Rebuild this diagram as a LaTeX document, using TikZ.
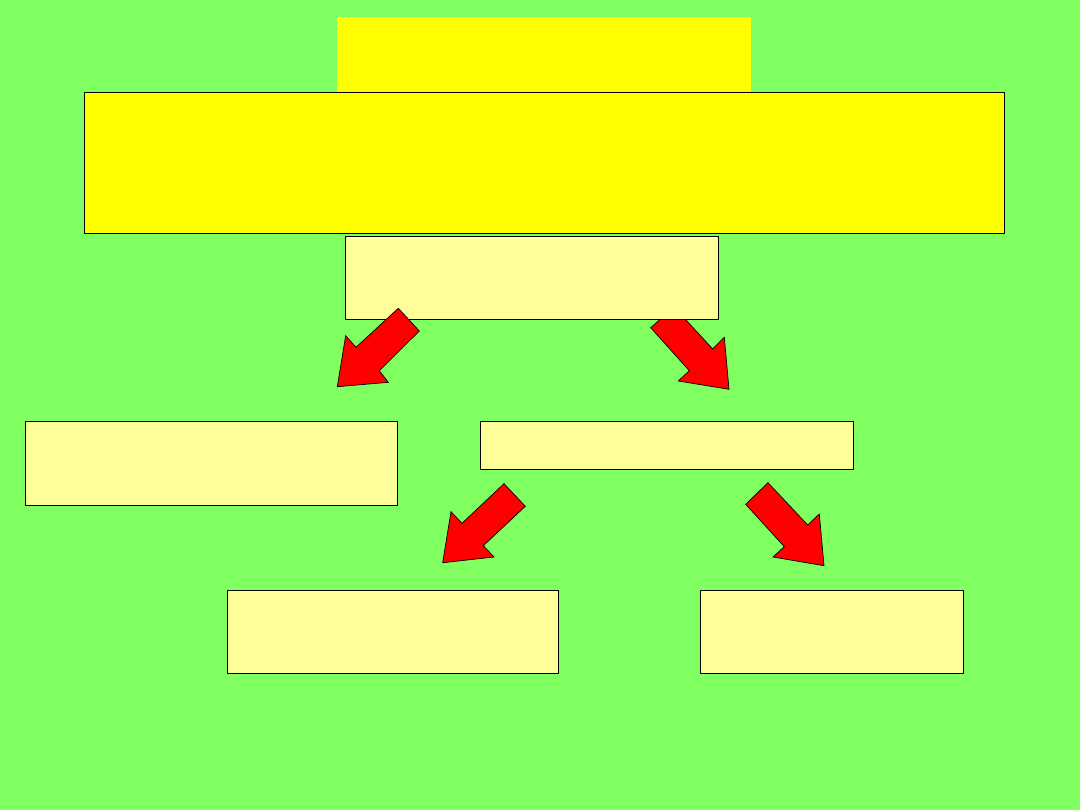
\documentclass[tikz,border=0pt]{standalone}
\usepackage[HTML]{xcolor}
\usepackage{tikz}
\usetikzlibrary{positioning, shadows}

\definecolor{slidegreen}{HTML}{80FF60}
\definecolor{boxyellow}{HTML}{FFFF00}
\definecolor{paleyellow}{HTML}{FFFF99}

\tikzset{
  panel/.style={anchor=north west, inner sep=0pt, outer sep=0pt, draw=black, line width=0.6pt,
    drop shadow={shadow xshift=0.25mm, shadow yshift=-0.25mm, fill=black, opacity=1}},
  pale/.style={panel, fill=paleyellow},
  bigarrow/.style={fill=red, draw=black, line width=0.5pt, line join=miter}
}

\begin{document}
\begin{tikzpicture}[x=0.025cm, y=-0.025cm]
\fill[slidegreen] (0,0) rectangle (1080,810);
\useasboundingbox (0,0) rectangle (1080,810);
% arrow behind the first box
\draw[bigarrow] (674,307) -- (712.7,349) -- (724.3,337.3) -- (729,389.3) -- (678.3,381) -- (689.3,370.7) -- (650.7,327.7) -- cycle;
% title and heading
\node[anchor=north west, inner sep=0pt, fill=boxyellow, minimum width=103.5mm, minimum height=18.75mm] (title) at (337,17) {};
\node[anchor=north west, inner sep=0pt, draw=black, line width=0.6pt, fill=boxyellow, minimum width=230mm, minimum height=35.25mm] (head) at (84,92) {};
% boxes
\node[pale, minimum width=93.25mm, minimum height=20.75mm] (top) at (345,236) {};
\node[pale, minimum width=93mm, minimum height=21mm] (left) at (25,421) {};
\node[pale, minimum width=93.25mm, minimum height=12mm] (mid) at (480,421) {};
\node[pale, minimum width=82.75mm, minimum height=20.75mm] (lowleft) at (227,590) {};
\node[pale, minimum width=65.75mm, minimum height=20.75mm] (lowright) at (700,590) {};
% arrows
\draw[bigarrow] (398.3,308.3) -- (419.3,331) -- (379.3,370.7) -- (388.3,382.3) -- (337.3,386.7) -- (345.7,335.7) -- (356,347.3) -- cycle;
\draw[bigarrow] (504,483.7) -- (525.3,506.3) -- (483.3,545.7) -- (494,557) -- (442.7,562.7) -- (451,511.7) -- (462,523.3) -- cycle;
\draw[bigarrow] (768,482.7) -- (807.7,525) -- (819.3,514) -- (824,565.7) -- (773,557) -- (784.3,546.7) -- (745.7,504.3) -- cycle;
\end{tikzpicture}
\end{document}
